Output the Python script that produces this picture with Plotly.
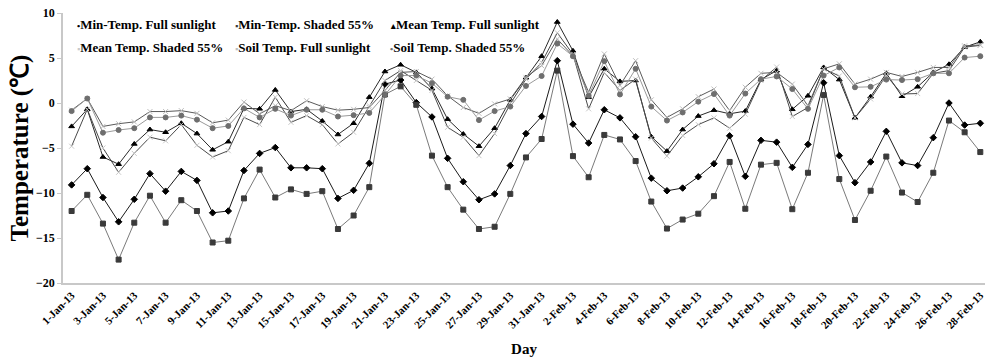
import plotly.graph_objects as go

days = ([f"{d}-Jan-13" for d in range(1, 32)] + [f"{d}-Feb-13" for d in range(1, 29)])

min_full = [-9.1, -7.3, -10.5, -13.2, -10.7, -7.85, -9.8, -7.6, -8.6, -12.2,
            -12.0, -7.5, -5.6, -4.95, -7.2, -7.2, -7.3, -10.6, -9.7, -6.7,
            2.1, 2.55, 0.05, -1.55, -6.15, -8.75, -10.75, -10.1, -6.95, -3.4,
            -1.5, 4.7, -2.35, -4.45, -0.75, -1.65, -3.75, -8.35, -9.75, -9.45,
            -8.2, -6.75, -3.65, -8.15, -4.15, -4.35, -7.15, -4.6, 2.25, -5.85,
            -8.85, -6.55, -3.15, -6.65, -6.95, -3.85, 0.0, -2.45, -2.25]
min_shaded = [-12.0, -10.2, -13.4, -17.4, -13.3, -10.3, -13.3, -10.8, -12.0, -15.5,
              -15.3, -10.6, -7.4, -10.5, -9.6, -10.1, -9.8, -14.0, -12.5, -9.35,
              0.95, 1.85, -0.2, -5.85, -9.35, -11.85, -14.0, -13.75, -10.1, -6.05,
              -4.0, 3.6, -5.9, -8.25, -3.55, -4.05, -6.45, -10.95, -13.95, -12.95,
              -12.3, -10.35, -6.55, -11.75, -6.85, -6.65, -11.8, -7.75, 0.9, -8.45,
              -13.0, -9.75, -5.95, -9.95, -11.0, -7.75, -1.95, -3.25, -5.45]
mean_full = [-2.6, -0.7, -6.0, -6.8, -4.55, -2.95, -3.25, -2.25, -3.4, -5.2,
             -4.3, -0.6, -0.65, 1.45, -0.95, -0.7, -2.0, -3.5, -2.25, 0.65,
             3.5, 4.25, 3.4, 1.6, -1.8, -3.45, -4.8, -2.8, 0.35, 2.8,
             5.2, 9.0, 5.8, 0.65, 3.8, 2.4, 2.5, -3.75, -5.35, -2.95,
             -1.45, -0.8, -1.2, -0.9, 2.6, 3.6, -0.7, 0.8, 3.95, 2.6,
             -1.65, 0.7, 3.3, 0.75, 1.8, 3.4, 4.3, 6.2, 6.8]
mean_shaded = [-4.8, -0.7, -5.0, -7.7, -5.6, -3.8, -4.2, -2.4, -4.7, -6.0,
               -5.3, -1.6, -2.4, 0.65, -2.15, -1.4, -2.4, -4.55, -3.25, -0.3,
               2.5, 3.6, 2.5, 1.4, -2.7, -3.8, -5.85, -3.4, -0.1, 2.65,
               4.5, 7.8, 5.4, -0.65, 3.4, 1.4, 2.65, -3.9, -5.9, -3.6,
               -2.4, -1.65, -2.8, -1.25, 2.5, 4.0, -1.5, -0.5, 3.8, 3.0,
               -1.65, 0.45, 3.05, 1.0, 1.05, 3.3, 3.6, 6.2, 6.4]
soil_full = [-0.8, 0.5, -2.6, -2.3, -2.1, -0.95, -0.95, -0.85, -1.15, -2.2,
             -1.9, 0.1, -1.2, -0.3, -0.85, 0.25, -0.4, -0.8, -0.7, -0.5,
             1.4, 3.4, 3.5, 2.65, 0.8, -0.5, -1.15, -0.1, 0.45, 2.85,
             4.15, 7.1, 5.25, 1.2, 5.45, 1.95, 4.7, 0.35, -1.6, -0.65,
             0.7, 1.55, -0.85, 1.75, 3.3, 3.4, 2.1, -0.3, 3.8, 4.35,
             2.1, 2.65, 3.4, 2.95, 3.4, 3.95, 3.95, 6.35, 6.45]
soil_shaded = [-0.9, 0.5, -3.3, -3.0, -2.8, -1.6, -1.6, -1.4, -1.85, -2.8,
               -2.55, -0.6, -1.6, -0.65, -1.4, -0.75, -0.75, -1.5, -1.35, -1.1,
               0.9, 3.05, 3.05, 2.2, 0.7, 0.35, -1.9, -0.9, -0.4, 1.9,
               3.0, 6.6, 5.2, 0.8, 4.65, 0.95, 3.8, -0.4, -1.95, -1.05,
               0.15, 1.0, -1.4, 1.05, 2.65, 2.95, 1.55, -0.65, 3.05, 3.95,
               1.75, 1.8, 2.6, 2.55, 2.65, 3.3, 3.3, 5.05, 5.2]

series_names = ["Min-Temp. Full sunlight", "Min-Temp. Shaded 55%", "Mean Temp. Full sunlight",
                "Mean Temp. Shaded 55%", "Soil Temp. Full sunlight", "Soil Temp. Shaded 55%"]
y_ticks = [-20, -15, -10, -5, 0, 5, 10]

series = [min_full, min_shaded, mean_full, mean_shaded, soil_full, soil_shaded]
styles = [
    dict(line="#1a1a1a", mcolor="#000000", symbol="diamond", size=5, glyph="•"),
    dict(line="#7a7a7a", mcolor="#3a3a3a", symbol="square", size=5, glyph="▪"),
    dict(line="#2a2a2a", mcolor="#000000", symbol="triangle-up", size=5, glyph="▴"),
    dict(line="#4a4a4a", mcolor="#c8c8c8", symbol="x-thin-open", size=5, glyph="▪"),
    dict(line="#5a5a5a", mcolor="#bdbdbd", symbol="x-thin-open", size=5, glyph="▪"),
    dict(line="#9a9a9a", mcolor="#6e6e6e", symbol="circle", size=5, glyph="•"),
]

FONT = "Liberation Serif"
fig = go.Figure()
for name, vals, st in zip(series_names, series, styles):
    fig.add_trace(go.Scatter(
        x=days, y=vals, mode="lines+markers", name=name, showlegend=False,
        line=dict(color=st["line"], width=1),
        marker=dict(color=st["mcolor"], symbol=st["symbol"], size=st["size"],
                    line=dict(color=st["mcolor"], width=1)),
        cliponaxis=False,
    ))

# legend drawn as text entries in a 3 x 2 grid
leg_x = [0.013, 0.184, 0.353]
leg_y = [0.9556, 0.874]
for i, (name, st) in enumerate(zip(series_names, styles)):
    fig.add_annotation(
        xref="paper", yref="paper", x=leg_x[i % 3], y=leg_y[i // 3],
        xanchor="left", yanchor="middle", showarrow=False,
        text=f"<span style='color:{st['mcolor']};font-size:9px'>{st['glyph']}</span>{name}",
        font=dict(family=FONT, size=13, color="#000", weight="bold"),
    )

fig.update_layout(
    width=986, height=361,
    margin=dict(l=63, r=1, t=13, b=78),
    plot_bgcolor="white", paper_bgcolor="white",
    font=dict(family=FONT, color="#000"),
    showlegend=False,
    xaxis=dict(
        type="category", range=[-0.55, 58.3], automargin=False,
        tickmode="array", tickvals=days[::2], ticktext=days[::2],
        tickangle=-45, tickfont=dict(family=FONT, size=11, weight="bold"),
        showline=True, linecolor="#c8c8c8", linewidth=1.5, showgrid=False,
        ticks="", zeroline=False,
        title=dict(text="Day", font=dict(family=FONT, size=15, weight="bold"), standoff=13),
    ),
    yaxis=dict(
        range=[-20, 10], tickvals=y_ticks, automargin=False,
        tickfont=dict(family=FONT, size=12, weight="bold"),
        showline=True, linecolor="#c8c8c8", linewidth=1.5, showgrid=False,
        ticks="outside", ticklen=4, tickcolor="#c8c8c8", zeroline=False,
        title=dict(text="Temperature (℃)", font=dict(family=FONT, size=25, weight="bold"), standoff=0),
    ),
)

fig.write_html("out.html", config={"displayModeBar": False},
               post_script="document.body.style.margin='0';")
